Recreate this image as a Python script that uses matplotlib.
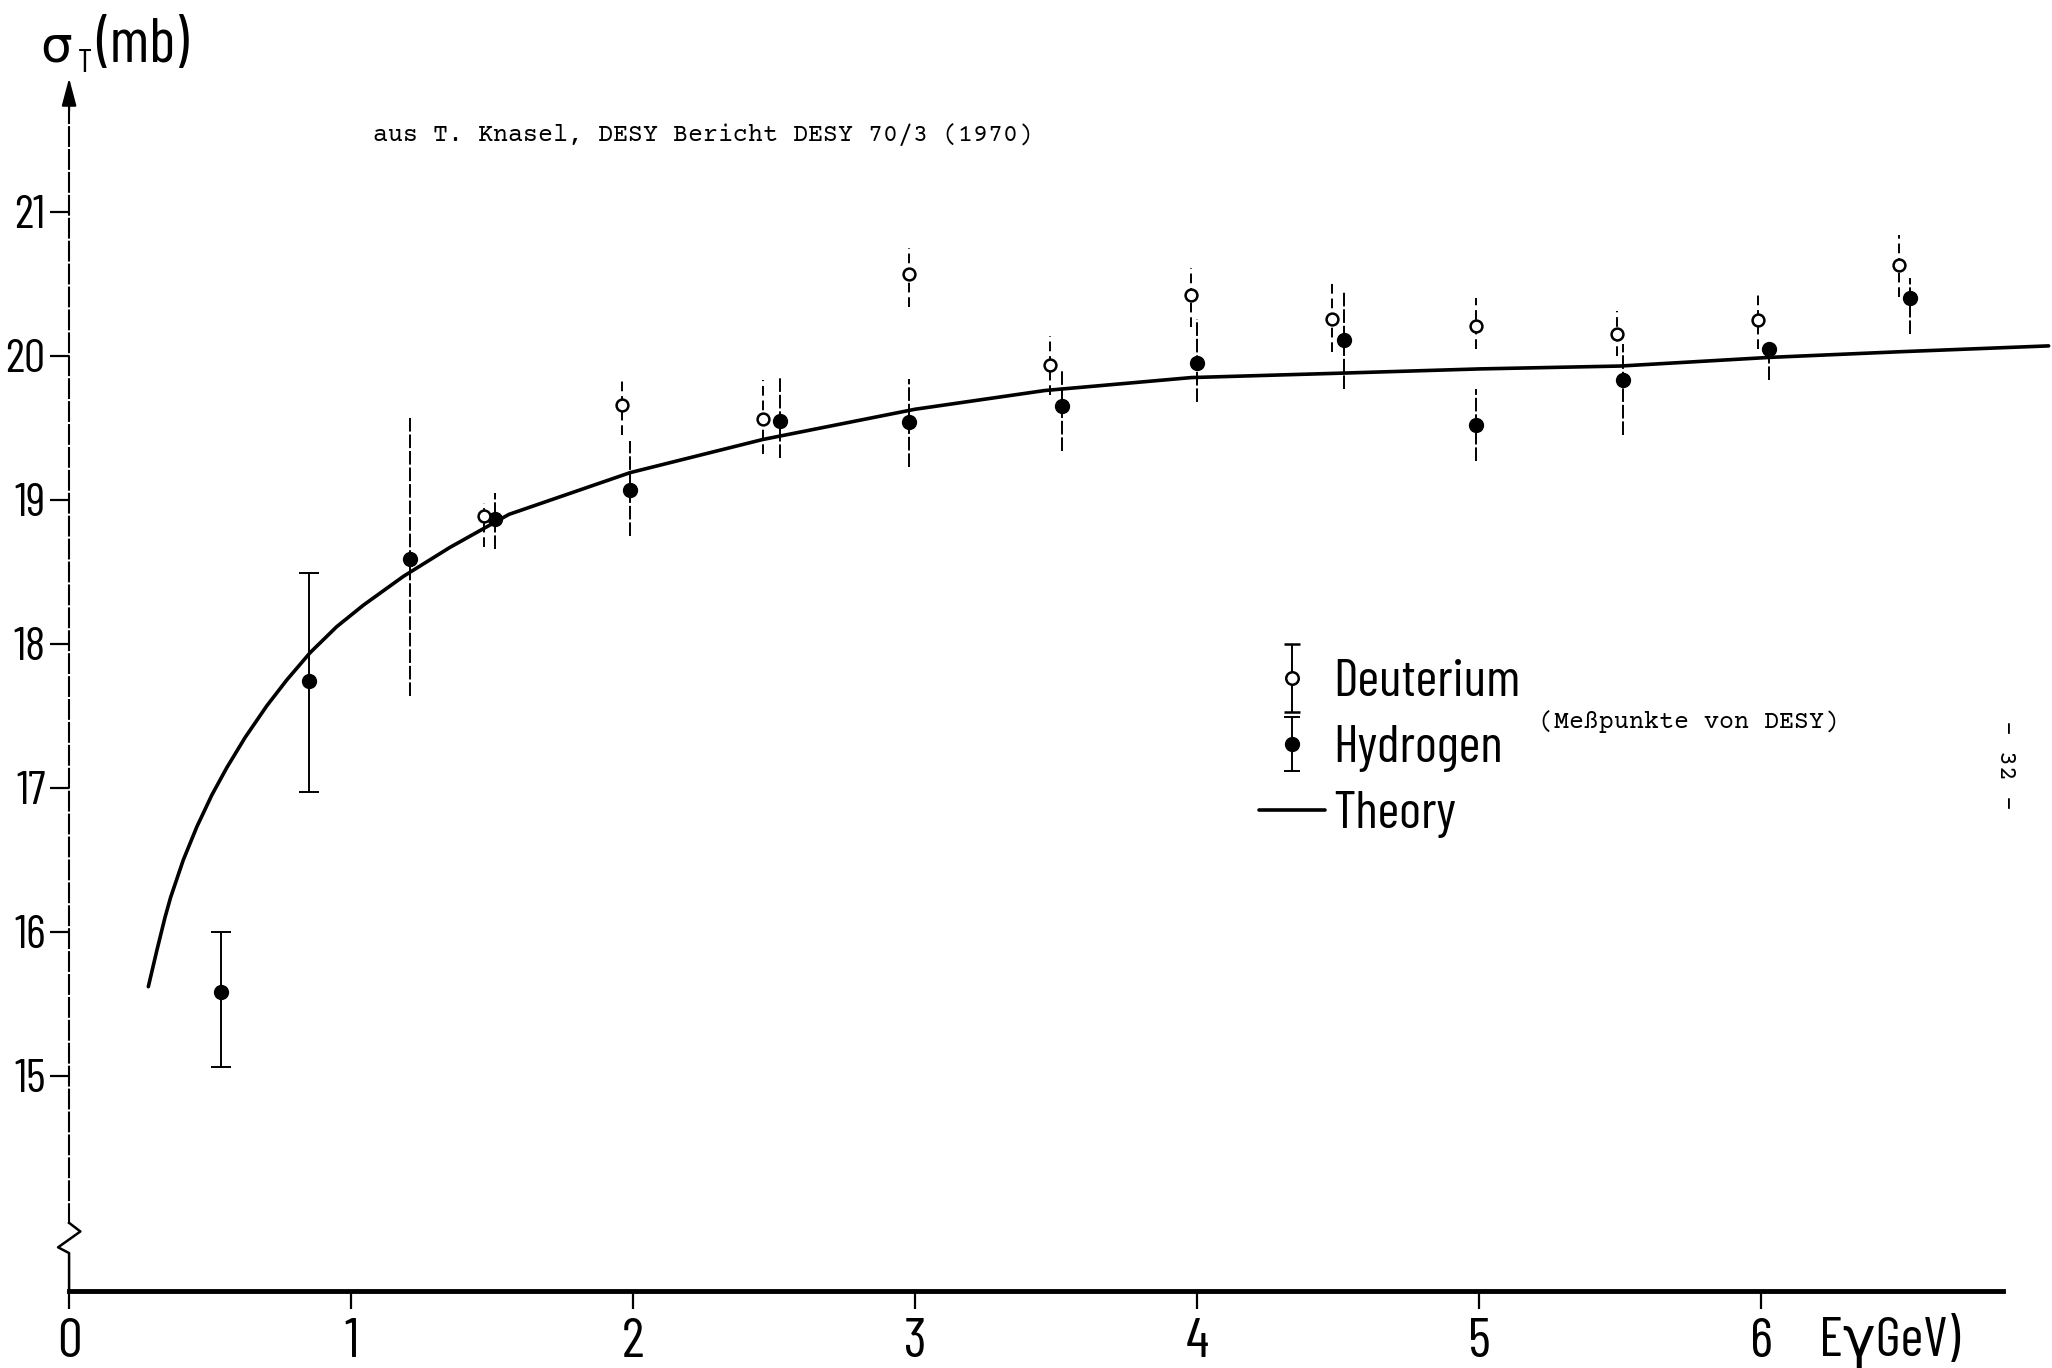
import matplotlib
matplotlib.use("Agg")
import matplotlib.pyplot as plt
import numpy as np
from matplotlib.legend_handler import HandlerErrorbar

# total photoabsorption cross section sigma_T (mb) vs photon energy E_gamma (GeV)
h_energy = [0.54, 0.85, 1.21, 1.51, 1.99, 2.52, 2.98, 3.52, 4.00, 4.52, 4.99, 5.51, 6.03, 6.53]
h_sigma = [15.58, 17.74, 18.59, 18.87, 19.07, 19.55, 19.54, 19.65, 19.95, 20.11, 19.52, 19.83, 20.05, 20.40]
h_hi = [16.00, 18.49, 19.58, 19.05, 19.41, 19.85, 19.84, 19.91, 20.26, 20.45, 19.77, 20.08, 20.10, 20.54]
h_lo = [15.06, 16.97, 17.64, 18.66, 18.75, 19.29, 19.23, 19.34, 19.68, 19.77, 19.27, 19.45, 19.83, 20.15]

d_energy = [1.47, 1.96, 2.46, 2.98, 3.48, 3.98, 4.48, 4.99, 5.49, 5.99, 6.49]
d_sigma = [18.89, 19.66, 19.56, 20.57, 19.94, 20.42, 20.26, 20.21, 20.15, 20.25, 20.63]
d_hi = [18.98, 19.85, 19.83, 20.75, 20.14, 20.61, 20.52, 20.40, 20.31, 20.45, 20.84]
d_lo = [18.67, 19.45, 19.32, 20.34, 19.73, 20.20, 20.03, 20.05, 20.00, 20.05, 20.41]

theory_energy = [0.281, 0.311, 0.340, 0.360, 0.405, 0.453, 0.506, 0.559, 0.624, 0.701,
                 0.772, 0.855, 0.949, 1.044, 1.186, 1.35, 1.56, 1.99, 2.46, 3.00,
                 3.46, 3.98, 4.50, 5.00, 5.50, 6.03, 6.50, 7.02]
theory_sigma = [15.62, 15.87, 16.10, 16.24, 16.50, 16.73, 16.95, 17.14, 17.35, 17.57,
                17.75, 17.94, 18.12, 18.27, 18.47, 18.67, 18.90, 19.19, 19.42, 19.63,
                19.76, 19.85, 19.88, 19.91, 19.93, 19.99, 20.03, 20.07]

x_ticks = [0, 1, 2, 3, 4, 5, 6]
y_ticks = [15, 16, 17, 18, 19, 20, 21]

LETTER = ["Barlow Condensed", "DejaVu Sans"]
TYPED = ["Courier Prime", "Liberation Mono"]

fig = plt.figure(figsize=(20.52, 13.68), dpi=100)
ax = fig.add_axes([0, 0, 1, 1])
ax.set_xlim(-0.245, 7.032)
ax.set_ylim(12.972, 22.472)

theory, = ax.plot(theory_energy, theory_sigma, color="black", lw=2.6,
                  solid_capstyle="round", solid_joinstyle="round", zorder=2)


def bars(x, y, lo, hi, **kw):
    y = np.asarray(y)
    err = [y - np.asarray(lo), np.asarray(hi) - y]
    return ax.errorbar(x, y, yerr=err, fmt="o", color="black", elinewidth=1.4,
                       zorder=3, **kw)


# hydrogen: the two lowest energies have end caps
bars(h_energy[:2], h_sigma[:2], h_lo[:2], h_hi[:2], ms=10, capsize=7.5, capthick=1.4)
hb = bars(h_energy[2:], h_sigma[2:], h_lo[2:], h_hi[2:], ms=10)
hb[2][0].set_linestyle((0, (7, 1.5)))
db = bars(d_energy, d_sigma, d_lo, d_hi, ms=8.5, mfc="white", mew=1.8)
db[2][0].set_linestyle((0, (5, 2.5)))

# axes drawn as in a hand-lettered figure: broken sigma axis with arrow
for s in ("top", "right"):
    ax.spines[s].set_visible(False)
ax.spines["bottom"].set_position(("data", 13.51))
ax.spines["bottom"].set_bounds(0, 6.86)
ax.spines["bottom"].set_linewidth(3.5)
ax.spines["left"].set_position(("data", 0))
ax.spines["left"].set_bounds(13.98, 21.72)
ax.spines["left"].set_linewidth(1.5)
ax.spines["left"].set_linestyle((0, (9, 2)))
ax.plot([0, 0.04, -0.039, 0, 0], [13.98, 13.92, 13.81, 13.77, 13.51],
        color="black", lw=1.8, clip_on=False)
ax.annotate("", xy=(0, 21.93), xytext=(0, 21.70),
            arrowprops=dict(arrowstyle="-|>,head_length=1.7,head_width=0.45",
                            color="black", lw=1.5, shrinkA=0, shrinkB=0))

ax.set_xticks(x_ticks)
ax.set_xticklabels([str(v) for v in x_ticks])
ax.set_yticks(y_ticks)
ax.set_yticklabels([str(v) for v in y_ticks])
ax.tick_params(axis="x", direction="out", length=13, width=1.6, pad=7, labelsize=40)
ax.tick_params(axis="y", direction="out", length=14, width=1.6, pad=3, labelsize=34)
for lab in ax.get_xticklabels() + ax.get_yticklabels():
    lab.set_fontfamily(LETTER)

ax.text(-0.103, 22.13, "σ", fontsize=36, family=LETTER, ha="left", va="center")
ax.text(0.030, 22.03, "T", fontsize=24, family=LETTER, ha="left", va="center")
ax.text(0.095, 22.15, "(mb)", fontsize=44, family=LETTER, ha="left", va="center")
ax.text(6.206, 13.16, "EγGeV)", fontsize=40, family=LETTER, ha="left", va="center")

ax.text(1.078, 21.535, "aus T. Knasel, DESY Bericht DESY 70/3 (1970)", fontsize=18,
        family=TYPED, ha="left", va="center")
ax.text(5.213, 17.458, "(Meßpunkte von DESY)", fontsize=18, family=TYPED,
        ha="left", va="center")
ax.text(6.869, 17.16, "- 32 -", fontsize=18, family=TYPED, rotation=270,
        ha="center", va="center")

# legend keys with capped error bars
d_key = ax.errorbar([np.nan], [np.nan], yerr=[[np.nan], [np.nan]], fmt="o", color="black",
                    ms=9, mfc="white", mew=1.8, elinewidth=1.4, capsize=6, capthick=1.4)
h_key = ax.errorbar([np.nan], [np.nan], yerr=[[np.nan], [np.nan]], fmt="o", color="black",
                    ms=10, elinewidth=1.4, capsize=6, capthick=1.4)
ax.legend(handles=[d_key, h_key, theory], labels=["Deuterium", "Hydrogen", "Theory"],
          loc="upper left", bbox_to_anchor=(0.6135, 0.518), frameon=False,
          borderpad=0, borderaxespad=0, handlelength=1.25, handletextpad=0.15,
          labelspacing=0.36, prop=dict(family=LETTER, size=38),
          handler_map={d_key: HandlerErrorbar(yerr_size=0.64),
                       h_key: HandlerErrorbar(yerr_size=0.51)})

fig.savefig("out.png", dpi=100, facecolor="white")
